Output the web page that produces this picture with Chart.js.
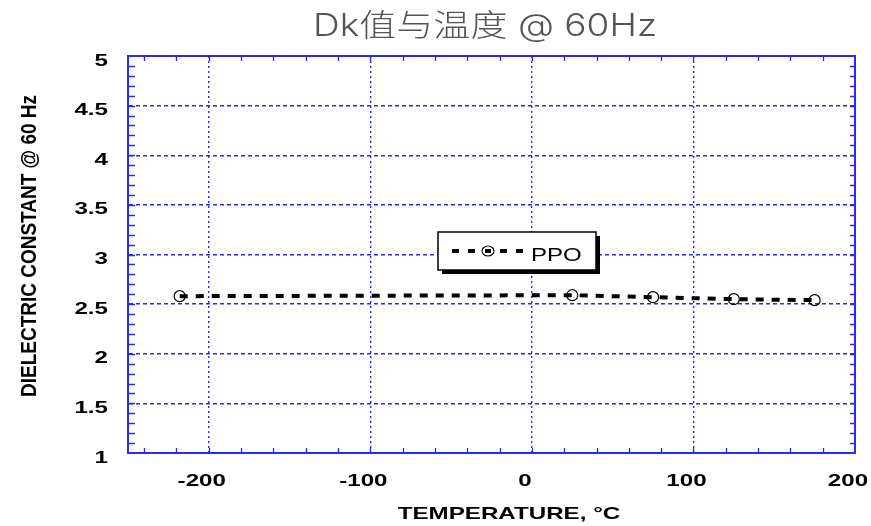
<!DOCTYPE html>
<html>
<head>
<meta charset="utf-8">
<script src="https://cdn.jsdelivr.net/npm/chart.js@4/dist/chart.umd.min.js"></script>
<style>
  html, body { margin: 0; padding: 0; background: #fff; }
  #wrap { width: 871px; height: 526px; }
</style>
</head>
<body>
<div id="wrap"><canvas id="c" width="871" height="526"></canvas></div>
<script>
// Dielectric constant of PPO measured at 60 Hz across temperature
const temperatures = [-218, 25, 75, 125, 175];
const dkValues = [2.58, 2.59, 2.57, 2.55, 2.54];
const xTickValues = [-200, -100, 0, 100, 200];
const yTickValues = [1, 1.5, 2, 2.5, 3, 3.5, 4, 4.5, 5];
const xMinorTicks = [-240, -220, -200, -180, -160, -140, -120, -100, -80, -60, -40, -20, 0, 20, 40, 60, 80, 100, 120, 140, 160, 180];
const yMinorTicks = [1.1, 1.2, 1.3, 1.4, 1.5, 1.6, 1.7, 1.8, 1.9, 2, 2.1, 2.2, 2.3, 2.4, 2.5, 2.6, 2.7, 2.8, 2.9, 3, 3.1, 3.2, 3.3, 3.4, 3.5, 3.6, 3.7, 3.8, 3.9, 4, 4.1, 4.2, 4.3, 4.4, 4.5, 4.6, 4.7, 4.8, 4.9];
const seriesName = 'PPO';
const chartTitle = 'Dk值与温度 @ 60Hz';
const xAxisTitle = 'TEMPERATURE, °C';
const yAxisTitle = 'DIELECTRIC CONSTANT @ 60 Hz';

const BLUE = 'rgb(40,40,250)';
const LABEL_FONT = '"Liberation Sans", Arial, sans-serif';
const WIDE = 1.42; // horizontal stretch of the label lettering

// text drawn with a horizontal stretch
function wideText(ctx, text, x, y, sx, align) {
  ctx.save();
  ctx.translate(x, y);
  ctx.scale(sx, 1);
  ctx.textAlign = align || 'center';
  ctx.fillText(text, 0, 0);
  ctx.restore();
}

// Frame, inward minor ticks, tick labels, titles and the boxed legend
const decorations = {
  id: 'decorations',
  afterDraw(chart) {
    const { ctx, chartArea: a, scales: { x, y } } = chart;
    ctx.save();
    // frame on all four sides
    ctx.strokeStyle = BLUE;
    ctx.lineWidth = 2;
    ctx.strokeRect(a.left, a.top, a.right - a.left, a.bottom - a.top);
    // minor ticks pointing into the plot
    ctx.lineWidth = 1.3;
    ctx.beginPath();
    xMinorTicks.forEach(v => {
      const px = Math.round(x.getPixelForValue(v)) + 0.5;
      ctx.moveTo(px, a.bottom); ctx.lineTo(px, a.bottom - 5);
      ctx.moveTo(px, a.top); ctx.lineTo(px, a.top + 5);
    });
    yMinorTicks.forEach(v => {
      const py = Math.round(y.getPixelForValue(v)) + 0.5;
      ctx.moveTo(a.left, py); ctx.lineTo(a.left + 7, py);
      ctx.moveTo(a.right, py); ctx.lineTo(a.right - 5, py);
    });
    ctx.stroke();

    // tick labels placed through the scales
    ctx.fillStyle = '#000';
    ctx.textBaseline = 'alphabetic';
    ctx.font = 'bold 17px ' + LABEL_FONT;
    x.ticks.forEach(t => {
      wideText(ctx, String(t.value), x.getPixelForValue(t.value) - 7, 486, WIDE, 'center');
    });
    y.ticks.forEach(t => {
      wideText(ctx, String(t.value), a.left - 20, y.getPixelForValue(t.value) + 9.5, WIDE, 'right');
    });

    // axis titles
    ctx.font = 'bold 17px ' + LABEL_FONT;
    wideText(ctx, xAxisTitle, 509, 519, WIDE, 'center');
    ctx.save();
    ctx.translate(36, 246);
    ctx.rotate(-Math.PI / 2);
    ctx.font = 'bold 17px ' + LABEL_FONT;
    const tw = ctx.measureText(yAxisTitle).width;
    ctx.scale(302 / tw, 1.25);
    ctx.textAlign = 'center';
    ctx.fillText(yAxisTitle, 0, 0);
    ctx.restore();

    // chart title
    ctx.fillStyle = '#555';
    ctx.font = '300 31px Inter, "Noto Sans CJK SC", "Noto Sans", sans-serif';
    const titleW = ctx.measureText(chartTitle).width;
    wideText(ctx, chartTitle, 485, 36, 344 / titleW, 'center');

    // legend box with drop shadow
    const bx = 438, by = 232, bw = 158, bh = 38;
    ctx.fillStyle = '#000';
    ctx.fillRect(bx + 4, by + 4, bw, bh);
    ctx.fillStyle = '#fff';
    ctx.fillRect(bx, by, bw, bh);
    ctx.strokeStyle = '#000';
    ctx.lineWidth = 1.5;
    ctx.strokeRect(bx, by, bw, bh);
    const ly = 251;
    ctx.lineWidth = 4;
    ctx.setLineDash([7, 9]);
    ctx.beginPath();
    ctx.moveTo(452, ly); ctx.lineTo(524, ly);
    ctx.stroke();
    ctx.setLineDash([]);
    ctx.fillStyle = '#fff';
    ctx.fillRect(481, ly - 6, 14, 12);
    ctx.fillStyle = '#000';
    ctx.lineWidth = 1.2;
    ctx.beginPath();
    ctx.ellipse(488, ly, 6, 5, 0, 0, Math.PI * 2);
    ctx.stroke();
    ctx.fillRect(485, ly - 2, 6, 4);
    ctx.font = '18.5px ' + LABEL_FONT;
    wideText(ctx, seriesName, 531, 261, 1.3, 'left');
    ctx.restore();
  }
};

new Chart(document.getElementById('c'), {
  type: 'scatter',
  data: {
    datasets: [{
      label: seriesName,
      data: temperatures.map((t, i) => ({ x: t, y: dkValues[i] })),
      showLine: true,
      borderColor: '#000',
      borderWidth: 4,
      borderDash: [8, 8],
      pointRadius: 5.5,
      pointBorderWidth: 1.2,
      pointBorderColor: '#000',
      pointBackgroundColor: 'rgba(0,0,0,0)',
      tension: 0
    }]
  },
  options: {
    responsive: false,
    animation: false,
    devicePixelRatio: 1,
    layout: { padding: { top: 56, right: 16, bottom: 0, left: 0 } },
    plugins: { legend: { display: false }, title: { display: false }, tooltip: { enabled: false } },
    scales: {
      x: {
        type: 'linear',
        min: -250, max: 200,
        afterBuildTicks: s => { s.ticks = xTickValues.map(v => ({ value: v })); },
        afterFit: s => { s.height = 73; },
        grid: { color: BLUE, lineWidth: 1.4, drawTicks: false },
        border: { display: true, color: BLUE, width: 2, dash: [2, 3] },
        ticks: { display: false }
      },
      y: {
        type: 'linear',
        min: 1, max: 5,
        afterBuildTicks: s => { s.ticks = yTickValues.map(v => ({ value: v })); },
        afterFit: s => { s.width = 128; },
        grid: { color: BLUE, lineWidth: 1.4, drawTicks: false },
        border: { display: true, color: BLUE, width: 2, dash: [4, 3] },
        ticks: { display: false }
      }
    }
  },
  plugins: [decorations]
});
</script>
</body>
</html>
